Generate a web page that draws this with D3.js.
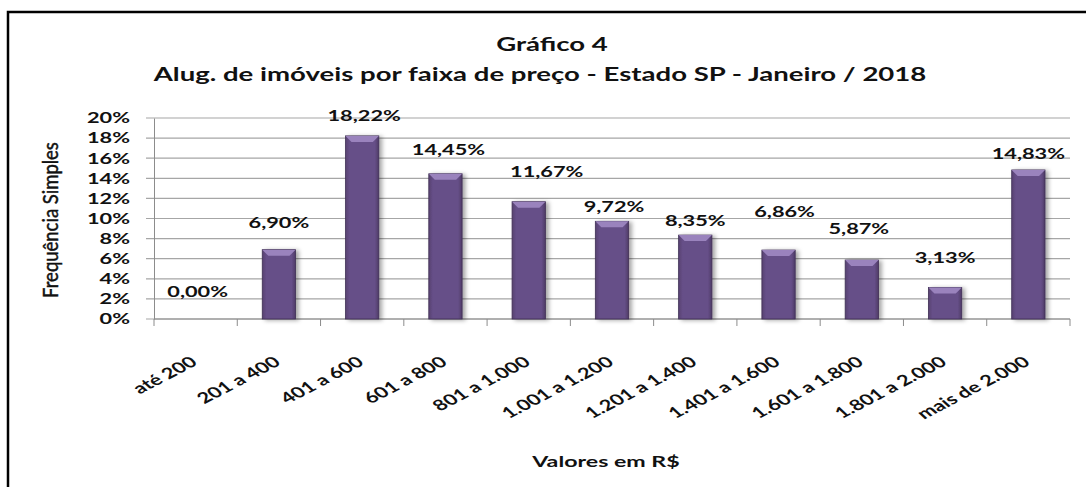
<!DOCTYPE html>
<html>
<head>
<meta charset="utf-8">
<script src="https://cdn.jsdelivr.net/npm/d3@7"></script>
<style>
  body { margin: 0; background: #fff; }
  svg { display: block; font-family: Lato, "Open Sans", sans-serif; }
</style>
</head>
<body>
<div id="chart"></div>
<script>
// price bands (R$) and share of rentals
const categories = ['até 200', '201 a 400', '401 a 600', '601 a 800', '801 a 1.000', '1.001 a 1.200',
    '1.201 a 1.400', '1.401 a 1.600', '1.601 a 1.800', '1.801 a 2.000', 'mais de 2.000'];
const values = [0.00, 6.90, 18.22, 14.45, 11.67, 9.72, 8.35, 6.86, 5.87, 3.13, 14.83];
const yTicks = [0, 2, 4, 6, 8, 10, 12, 14, 16, 18, 20];
// data labels were dragged around by hand in the original, so keep the nudges
const labelLift = [22, 22, 15, 19, 25, 9, 9, 33, 26, 25, 11];
const labelShift = [2, 0, 2, 3, 18, 2, 0, 6, -3, 0, 0];

const width = 1086, height = 487;
const margin = { top: 118, left: 154, right: 16, bottom: 168 };
// the source picture was stretched sideways, text included
const stretch = 1.45;

const svg = d3.select('#chart').append('svg')
    .attr('width', width)
    .attr('height', height);

const defs = svg.append('defs');
const grad = defs.append('linearGradient').attr('id', 'barFill')
    .attr('x1', 0).attr('x2', 1).attr('y1', 0).attr('y2', 0);
grad.append('stop').attr('offset', '0%').attr('stop-color', '#574170');
grad.append('stop').attr('offset', '12%').attr('stop-color', '#664f88');
grad.append('stop').attr('offset', '88%').attr('stop-color', '#664f88');
grad.append('stop').attr('offset', '100%').attr('stop-color', '#4f3b66');
const shadow = defs.append('filter').attr('id', 'shadow')
    .attr('x', '-30%').attr('y', '-10%').attr('width', '160%').attr('height', '130%');
shadow.append('feDropShadow').attr('dx', 3).attr('dy', 1).attr('stdDeviation', 2)
    .attr('flood-color', '#000').attr('flood-opacity', 0.35);

// frame (only top and left edges are visible in the source)
svg.append('path')
    .attr('d', `M8,${height + 5} V12 H${width + 5}`)
    .attr('fill', 'none')
    .attr('stroke', '#000')
    .attr('stroke-width', 2.5);

const x = d3.scaleBand()
    .domain(categories)
    .range([margin.left, width - margin.right])
    .paddingInner(0.6)
    .paddingOuter(0.3);

const xTickPos = d3.scaleBand().domain(categories)
    .range([margin.left, width - margin.right]);

const y = d3.scaleLinear()
    .domain([0, 20])
    .range([height - margin.bottom, margin.top]);

function wideText(sel) {
    return sel.attr('font-weight', 700).attr('fill', '#111');
}

// gridlines
svg.append('g')
    .selectAll('line')
    .data(yTicks)
    .join('line')
    .attr('x1', margin.left - 8)
    .attr('x2', width - margin.right)
    .attr('y1', d => y(d))
    .attr('y2', d => y(d))
    .attr('stroke', '#a6a6a6')
    .attr('stroke-width', 1.2);

// y axis
const yAxis = svg.append('g')
    .attr('transform', `translate(${margin.left},0)`)
    .call(d3.axisLeft(y).tickValues(yTicks).tickSize(0).tickPadding(24).tickFormat(d => d + '%'));
yAxis.select('.domain').attr('stroke', '#8c8c8c');
yAxis.selectAll('text')
    .attr('x', -24 / stretch)
    .attr('transform', `scale(${stretch},1)`)
    .attr('font-size', 15)
    .attr('font-weight', 700)
    .attr('fill', '#111')
    .style('font-family', 'Lato, sans-serif');

// x axis line + ticks between bands
const xBase = y(0);
svg.append('line')
    .attr('x1', margin.left).attr('x2', width - margin.right)
    .attr('y1', xBase).attr('y2', xBase)
    .attr('stroke', '#8c8c8c');
svg.append('g')
    .selectAll('line')
    .data(categories.concat(['end']))
    .join('line')
    .attr('x1', (d, i) => margin.left + i * xTickPos.bandwidth())
    .attr('x2', (d, i) => margin.left + i * xTickPos.bandwidth())
    .attr('y1', xBase)
    .attr('y2', xBase + 7)
    .attr('stroke', '#8c8c8c');

// category labels, slanted
svg.append('g')
    .selectAll('text')
    .data(categories)
    .join('text')
    .attr('transform', d => `translate(${x(d) + x.bandwidth() / 2 + 3},${xBase + 45}) scale(${stretch},1) rotate(-37)`)
    .attr('text-anchor', 'end')
    .attr('font-size', 15)
    .call(wideText)
    .text(d => d);

// bars
const bars = svg.append('g')
    .selectAll('g')
    .data(values.map((v, i) => ({ cat: categories[i], v })).filter(d => d.v > 0))
    .join('g');

bars.append('rect')
    .attr('x', d => x(d.cat))
    .attr('y', d => y(d.v))
    .attr('width', x.bandwidth())
    .attr('height', d => xBase - y(d.v))
    .attr('fill', 'url(#barFill)')
    .attr('stroke', '#3f2f55')
    .attr('stroke-width', 0.8)
    .attr('filter', 'url(#shadow)');

// top bevel
bars.append('path')
    .attr('d', d => {
        const x0 = x(d.cat), w = x.bandwidth(), t = y(d.v), b = 6;
        return `M${x0},${t} H${x0 + w} L${x0 + w - b},${t + b} H${x0 + b} Z`;
    })
    .attr('fill', '#9a83bd');

// value labels
svg.append('g')
    .selectAll('text')
    .data(values)
    .join('text')
    .attr('transform', (d, i) => `translate(${x(categories[i]) + x.bandwidth() / 2 + labelShift[i]},${y(d) - labelLift[i]}) scale(${stretch},1)`)
    .attr('text-anchor', 'middle')
    .attr('font-size', 15)
    .call(wideText)
    .text(d => d.toFixed(2).replace('.', ',') + '%');

// titles
svg.append('text')
    .attr('transform', `translate(552,51) scale(${stretch},1)`)
    .attr('text-anchor', 'middle')
    .attr('font-size', 19)
    .call(wideText)
    .text('Gráfico 4');
svg.append('text')
    .attr('transform', `translate(540,81) scale(${stretch},1)`)
    .attr('text-anchor', 'middle')
    .attr('font-size', 19)
    .call(wideText)
    .text('Alug. de imóveis por faixa de preço - Estado SP - Janeiro / 2018');

svg.append('text')
    .attr('transform', 'translate(58,220) scale(1.15,1) rotate(-90)')
    .attr('text-anchor', 'middle')
    .attr('font-size', 18.5)
    .attr('font-weight', 400)
    .attr('fill', '#111')
    .style('stroke', '#111')
    .style('stroke-width', 0.4)
    .text('Frequência Simples');

svg.append('text')
    .attr('transform', `translate(606,467) scale(${stretch},1)`)
    .attr('text-anchor', 'middle')
    .attr('font-size', 16)
    .call(wideText)
    .text('Valores em R$');
</script>
</body>
</html>
